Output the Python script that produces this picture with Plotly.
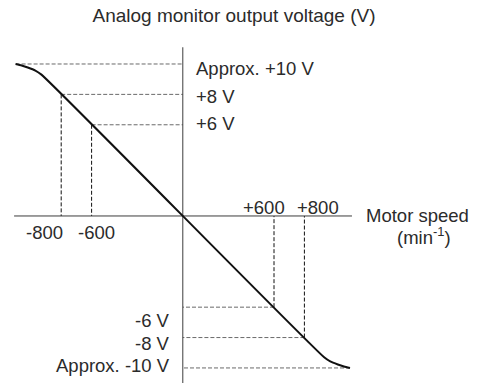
import plotly.graph_objects as go

# Output characteristic: motor speed (min^-1) vs analog monitor voltage (V)
curve_speed = [-1100, -1060, -1020, -970, -930, 930, 970, 1020, 1060, 1100]
curve_voltage = [10.0, 9.9, 9.77, 9.57, 9.3, -9.3, -9.57, -9.77, -9.9, -10.0]

# Reference levels marked with dashed guides
guide_voltage = [10, 8, 6, -6, -8, -10]
guide_voltage_speed = [-1100, -800, -600, 600, 800, 1100]
voltage_labels = ["Approx. +10 V", "+8 V", "+6 V", "-6 V", "-8 V", "Approx. -10 V"]

guide_speed = [-800, -600, 600, 800]
guide_speed_voltage = [8, 6, -6, -8]
speed_labels = ["-800", "-600", "+600", "+800"]

# Axis extents (data units)
x_axis_span = [-1110, 1113]
y_axis_span = [11.1, -11.2]

FONT = "Liberation Sans, Arial, sans-serif"
TEXT_COLOR = "#2b2b2b"
SIZE = 18.5

fig = go.Figure()

# horizontal guides: curve point -> vertical axis
hx, hy = [], []
for v, s in zip(guide_voltage, guide_voltage_speed):
    hx += [s, 0, None]
    hy += [v, v, None]
fig.add_trace(go.Scatter(x=hx, y=hy, mode="lines",
                         line=dict(color="#6a6a6a", width=1, dash="4px,2px"),
                         hoverinfo="skip"))

# vertical guides: curve point -> horizontal axis
vx, vy = [], []
for s, v in zip(guide_speed, guide_speed_voltage):
    vx += [s, s, None]
    vy += [v, 0, None]
fig.add_trace(go.Scatter(x=vx, y=vy, mode="lines",
                         line=dict(color="#111111", width=1, dash="4px,2px"),
                         hoverinfo="skip"))

# axes
fig.add_trace(go.Scatter(x=x_axis_span, y=[0, 0], mode="lines",
                         line=dict(color="#3c3c3c", width=1), hoverinfo="skip"))
fig.add_trace(go.Scatter(x=[0, 0], y=y_axis_span, mode="lines",
                         line=dict(color="#3c3c3c", width=1), hoverinfo="skip"))

# characteristic curve
fig.add_trace(go.Scatter(x=curve_speed, y=curve_voltage, mode="lines",
                         line=dict(color="#111111", width=2, shape="spline",
                                   smoothing=0.6),
                         hoverinfo="skip"))

annotations = []
# voltage labels beside the vertical axis
v_yshift = [-4.5, -2.6, 0.8, -13.8, -6.4, 2.0]
for v, lab, dy in zip(guide_voltage, voltage_labels, v_yshift):
    pos = v > 0
    annotations.append(dict(
        x=0, y=v, xref="x", yref="y", text=lab, showarrow=False,
        xanchor="left" if pos else "right", yanchor="middle",
        xshift=11 if pos else -11, yshift=dy,
        font=dict(family=FONT, size=SIZE, color=TEXT_COLOR)))

# speed labels beside the horizontal axis
s_xshift = [-17, 5, -10, 14]
for s, lab, dx in zip(guide_speed, speed_labels, s_xshift):
    neg = s < 0
    annotations.append(dict(
        x=s, y=0, xref="x", yref="y", text=lab, showarrow=False,
        xanchor="center", yanchor="middle",
        xshift=dx, yshift=-17 if neg else 8.5,
        font=dict(family=FONT, size=SIZE, color=TEXT_COLOR)))

# axis names
annotations.append(dict(
    x=x_axis_span[1], y=0, xref="x", yref="y", text="Motor speed",
    showarrow=False, xanchor="left", yanchor="middle", xshift=12, yshift=0,
    font=dict(family=FONT, size=SIZE, color=TEXT_COLOR)))
annotations.append(dict(
    x=x_axis_span[1], y=0, xref="x", yref="y", text="(min<sup>-1</sup>)",
    showarrow=False, xanchor="center", yanchor="middle", xshift=72, yshift=-20,
    font=dict(family=FONT, size=SIZE, color=TEXT_COLOR)))

fig.update_layout(
    width=483, height=383,
    margin=dict(l=0, r=0, t=0, b=0),
    paper_bgcolor="white", plot_bgcolor="white",
    showlegend=False,
    title=dict(text="Analog monitor output voltage (V)",
               x=0.4845, xanchor="center", y=0.961, yanchor="middle",
               font=dict(family=FONT, size=19, color=TEXT_COLOR)),
    xaxis=dict(range=[-1202.6, 1975.0], visible=False, fixedrange=True),
    yaxis=dict(range=[-10.99, 14.21], visible=False, fixedrange=True),
    annotations=annotations,
)

fig.write_html("out.html")
